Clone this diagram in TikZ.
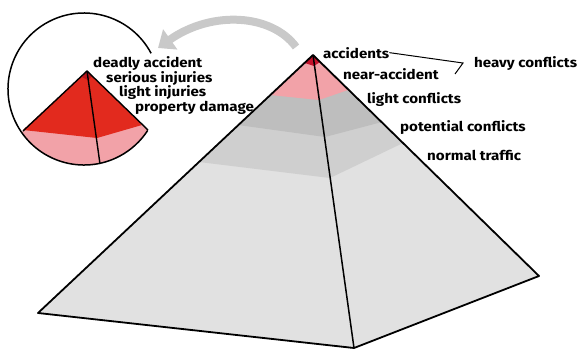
\documentclass[tikz,border=0pt]{standalone}
\usepackage{fontspec}
\setmainfont{Fira Sans}
\newfontfamily\etifont[FakeStretch=1.12]{Fira Sans}
\usetikzlibrary{arrows.meta}

\begin{document}
\begin{tikzpicture}[x=1pt,y=-1pt,
  etich/.style={anchor=base west, inner sep=0pt, font=\etifont\fontsize{13.5}{16}\selectfont\bfseries},
  spigolo/.style={line width=1.8pt, line join=round}]

% Colori
\definecolor{colBase}{HTML}{E1E1E1}
\definecolor{colMid}{HTML}{CFCFCF}
\definecolor{colDark}{HTML}{BEBEBE}
\definecolor{colPink}{HTML}{F2A2A8}
\definecolor{colTip}{HTML}{C4122C}
\definecolor{colRed}{HTML}{E22A1E}
\definecolor{colDeep}{HTML}{B8161C}
\definecolor{colArrow}{HTML}{C9C9C9}

\useasboundingbox (0,0) rectangle (577,349);

% Piramide
\coordinate (P) at (313,55);
\coordinate (L) at (38,313);
\coordinate (F) at (354,348);
\coordinate (R) at (539,276);

\fill[colBase] (P) -- (L) -- (F) -- (R) -- cycle;
\fill[colMid] (P) -- (199,162) -- (330,178) -- (403,143) -- cycle;
\fill[colDark] (P) -- (238,125) -- (325,137) -- (382,122) -- cycle;
\fill[colPink] (P) -- (270,95) -- (319,100) -- (348,90) -- cycle;
\fill[colTip] (P) -- (305,63) -- (314,66) -- (320,62) -- cycle;

\draw[spigolo] (L) -- (P) -- (R) -- (F) -- cycle;
\draw[line width=1.5pt] (P) -- (F);

% Lente (cerchio con la punta ingrandita)
\coordinate (C) at (84,89);
\coordinate (p) at (87,71);
\begin{scope}
  \clip (C) circle (76);
  \fill[colPink] (p) -- (10,143) -- (102,180) -- (160,142) -- cycle;
  \fill[colRed] (p) -- (23,130) -- (97,138) -- (142,125) -- cycle;
  \fill[colDeep] (p) -- (82,77) -- (88,80) -- (92,76) -- cycle;
\end{scope}
\draw[line width=1.4pt] (23,131) -- (p) -- (148,130);
\draw[line width=1.4pt] (p) -- (100,164);
\draw[line width=1.5pt] (C) ++(-28:76) arc[start angle=-28, end angle=-327, radius=76];

% Freccia
\coordinate (arrTail) at (296,47);
\coordinate (arrHead) at (158,48);
\draw[colArrow, line width=8pt, -{Triangle[length=15pt,width=24pt]}]
  (arrTail) .. controls (272,14) and (212,10) .. (arrHead);

% Etichette piramide
\node[etich] (acc) at (323,58) {accidents};
\node[etich] (near) at (343,79) {near-accident};
\node[etich] (lightc) at (367,103) {light conflicts};
\node[etich] (pot) at (400,131) {potential conflicts};
\node[etich] (norm) at (427,160) {normal traffic};
\node[etich] (heavy) at (474,67) {heavy conflicts};

% Parentesi
\coordinate (brk) at (463,63);
\coordinate (brkEnd) at (455,74);
\draw[line width=1pt] (acc.east) -- (brk) -- (brkEnd);

% Etichette lente
\node[etich] (deadly) at (93,67) {deadly accident};
\node[etich] (serious) at (106,82) {serious injuries};
\node[etich] (lighti) at (119,96) {light injuries};
\node[etich] (prop) at (135,111) {property damage};

\end{tikzpicture}
\end{document}
